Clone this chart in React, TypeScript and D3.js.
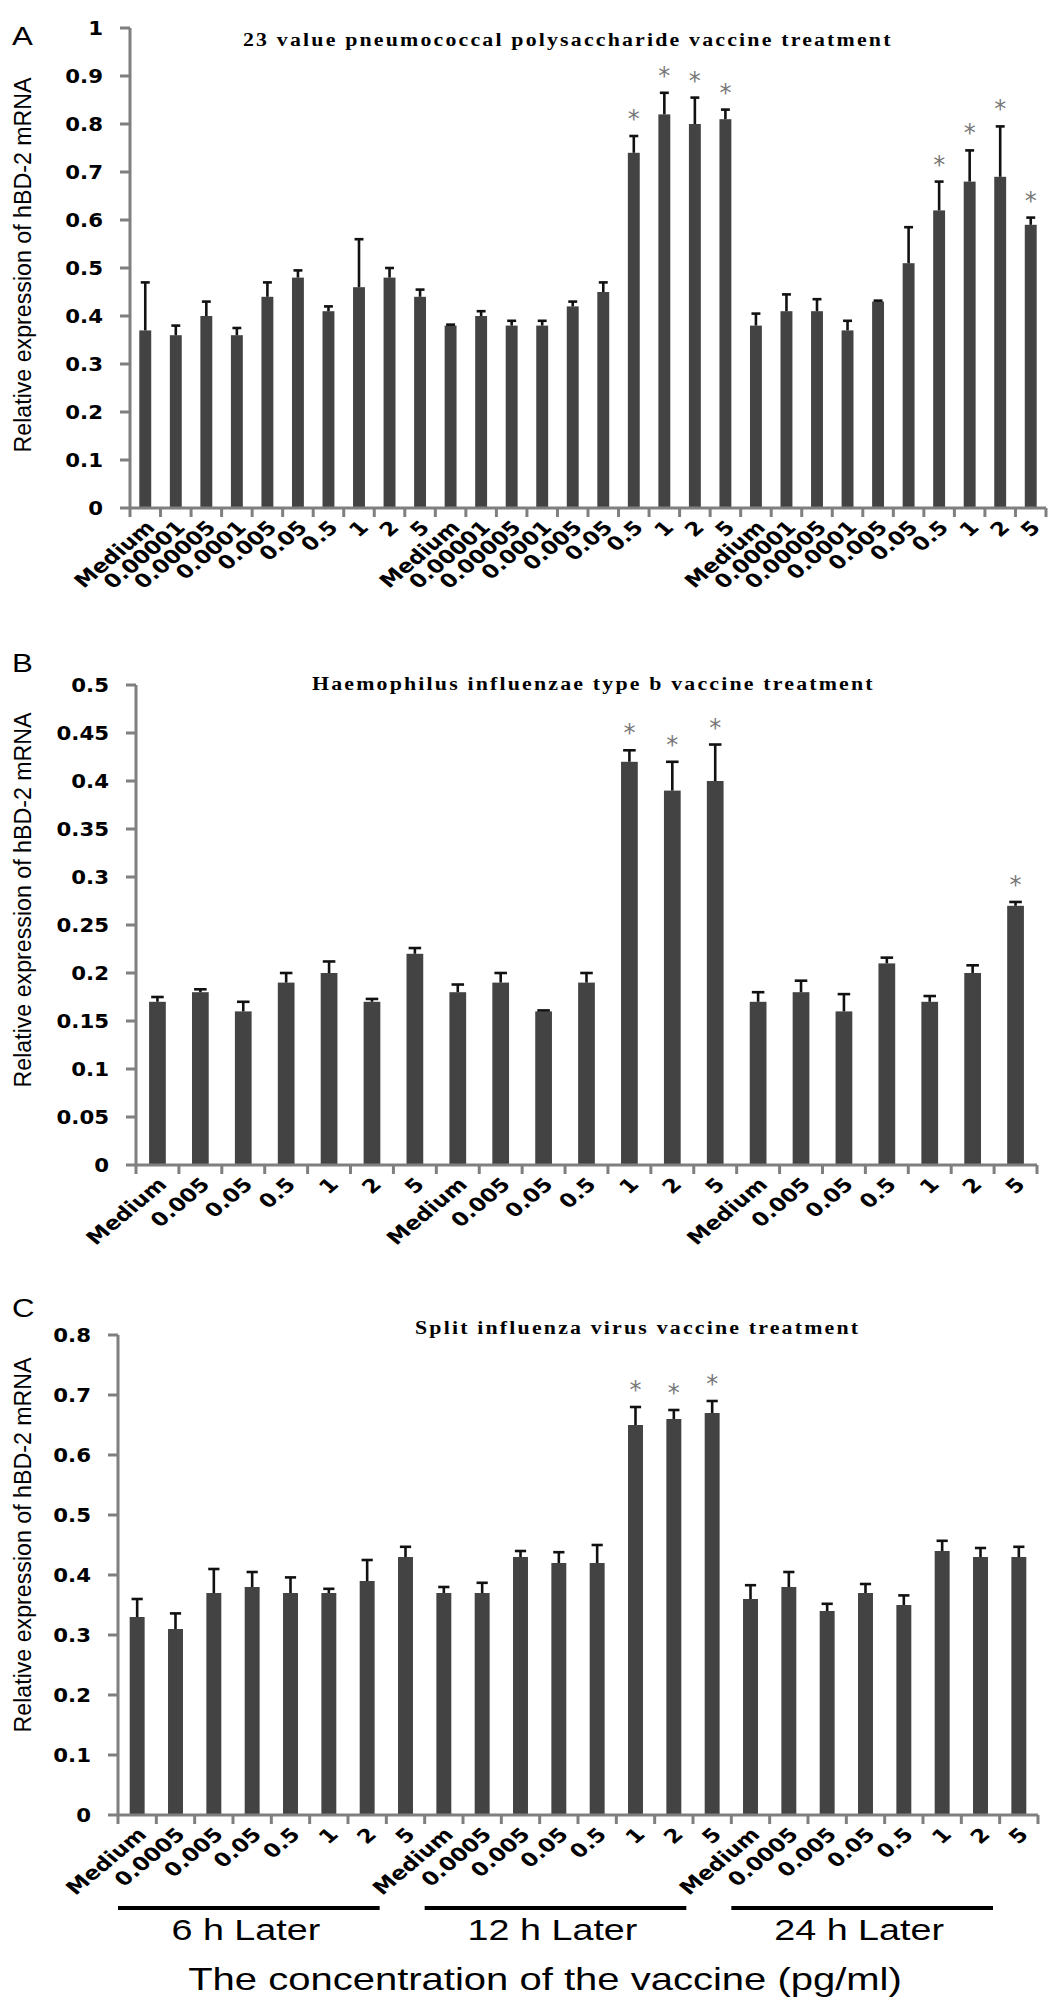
import React from 'react';
import * as d3 from 'd3';

// concentration labels for each vaccine (pg/ml), repeated for the 3 time points
const ppvDoses = ['Medium', '0.00001', '0.00005', '0.0001', '0.005', '0.05', '0.5', '1', '2', '5'];
const hibDoses = ['Medium', '0.005', '0.05', '0.5', '1', '2', '5'];
const fluDoses = ['Medium', '0.0005', '0.005', '0.05', '0.5', '1', '2', '5'];
const timePoints = ['6 h Later', '12 h Later', '24 h Later'];

// A: 23 valent pneumococcal polysaccharide vaccine
const ppvMean = [
  0.37, 0.36, 0.40, 0.36, 0.44, 0.48, 0.41, 0.46, 0.48, 0.44,
  0.38, 0.40, 0.38, 0.38, 0.42, 0.45, 0.74, 0.82, 0.80, 0.81,
  0.38, 0.41, 0.41, 0.37, 0.43, 0.51, 0.62, 0.68, 0.69, 0.59,
];
const ppvErr = [
  0.10, 0.02, 0.03, 0.015, 0.03, 0.015, 0.01, 0.10, 0.02, 0.015,
  0.002, 0.01, 0.01, 0.01, 0.01, 0.02, 0.035, 0.045, 0.055, 0.02,
  0.025, 0.035, 0.025, 0.02, 0.002, 0.075, 0.06, 0.065, 0.105, 0.015,
];
const ppvStars = [16, 17, 18, 19, 26, 27, 28, 29];

// B: Haemophilus influenzae type b vaccine
const hibMean = [
  0.17, 0.18, 0.16, 0.19, 0.20, 0.17, 0.22,
  0.18, 0.19, 0.16, 0.19, 0.42, 0.39, 0.40,
  0.17, 0.18, 0.16, 0.21, 0.17, 0.20, 0.27,
];
const hibErr = [
  0.005, 0.003, 0.01, 0.01, 0.012, 0.003, 0.006,
  0.008, 0.01, 0.001, 0.01, 0.012, 0.03, 0.038,
  0.01, 0.012, 0.018, 0.006, 0.006, 0.008, 0.004,
];
const hibStars = [11, 12, 13, 20];

// C: split influenza virus vaccine
const fluMean = [
  0.33, 0.31, 0.37, 0.38, 0.37, 0.37, 0.39, 0.43,
  0.37, 0.37, 0.43, 0.42, 0.42, 0.65, 0.66, 0.67,
  0.36, 0.38, 0.34, 0.37, 0.35, 0.44, 0.43, 0.43,
];
const fluErr = [
  0.03, 0.026, 0.04, 0.025, 0.026, 0.007, 0.035, 0.017,
  0.01, 0.017, 0.01, 0.018, 0.03, 0.03, 0.015, 0.02,
  0.023, 0.025, 0.012, 0.015, 0.016, 0.017, 0.015, 0.017,
];
const fluStars = [13, 14, 15];

const W = 1056;
const H = 2008;
const BAR = '#434343';
const AXIS = '#7f7f7f';
const STAR = '#787878';
const YLABEL = 'Relative expression of hBD-2 mRNA';

interface PanelProps {
  letter: string;
  letterY: number;
  title: string;
  titleX: number;
  titleY: number;
  labels: string[];
  mean: number[];
  err: number[];
  stars: number[];
  yMax: number;
  yStep: number;
  top: number;
  bottom: number;
  left: number;
  right: number;
  yLabelCenter: number;
}

const Panel: React.FC<PanelProps> = (p) => {
  const cats = p.mean.map((_, i) => i);
  const x = d3.scaleBand<number>().domain(cats).range([p.left, p.right]).padding(0);
  const y = d3.scaleLinear().domain([0, p.yMax]).range([p.bottom, p.top]);
  const bw = x.bandwidth() * 0.39;
  const capW = bw * 0.75;
  const ticks = d3.range(0, p.yMax + 1e-9, p.yStep);
  const fmt = (v: number) => String(+v.toFixed(2));
  const labelFor = (i: number) => p.labels[i % p.labels.length];
  const boundaries = d3.range(0, cats.length + 1).map(i => p.left + i * x.step());

  return (
    <g>
      <text x={12} y={p.letterY} fontFamily="Liberation Sans, Arial, sans-serif" fontSize={26}
        transform={`translate(12,${p.letterY}) scale(1.2,1) translate(-12,${-p.letterY})`}>{p.letter}</text>

      <text transform={`translate(${p.titleX},${p.titleY}) scale(1.15,1)`} fontFamily="Liberation Serif, Times New Roman, serif"
        fontWeight="bold" fontSize={19} letterSpacing={1.9}>{p.title}</text>

      <text transform={`translate(31,${p.yLabelCenter}) rotate(-90)`} textAnchor="middle"
        fontFamily="Liberation Sans, Arial, sans-serif" fontSize={23}
        textLength={375} lengthAdjust="spacingAndGlyphs">{YLABEL}</text>

      {/* bars */}
      {cats.map(i => (
        <rect key={`b${i}`} x={x(i)! + (x.bandwidth() - bw) / 2} y={y(p.mean[i])}
          width={bw} height={p.bottom - y(p.mean[i])} fill={BAR} />
      ))}

      {/* error bars (upper only) */}
      {cats.map(i => {
        const cx = x(i)! + x.bandwidth() / 2;
        const yt = y(p.mean[i] + p.err[i]);
        return (
          <g key={`e${i}`} stroke="#111" strokeWidth={2.6}>
            <line x1={cx} x2={cx} y1={y(p.mean[i])} y2={yt} />
            <line x1={cx - capW / 2} x2={cx + capW / 2} y1={yt} y2={yt} />
          </g>
        );
      })}

      {p.stars.map(i => (
        <text key={`s${i}`} x={x(i)! + x.bandwidth() / 2} y={y(p.mean[i] + p.err[i]) - 9}
          textAnchor="middle" fontFamily="DejaVu Sans, sans-serif" fontSize={24} fill={STAR}>*</text>
      ))}

      {/* y axis */}
      <line x1={p.left} x2={p.left} y1={p.top} y2={p.bottom} stroke={AXIS} strokeWidth={3} />
      {ticks.map(t => (
        <g key={`yt${t}`}>
          <line x1={p.left - 10} x2={p.left} y1={y(t)} y2={y(t)} stroke={AXIS} strokeWidth={3} />
          <text transform={`translate(${p.left - 27},${y(t)}) scale(1.12,1)`} textAnchor="end" dy="0.36em"
            fontFamily="DejaVu Sans, Verdana, sans-serif" fontWeight="bold" fontSize={19}>{fmt(t)}</text>
        </g>
      ))}

      {/* x axis */}
      <line x1={p.left} x2={p.right} y1={p.bottom} y2={p.bottom} stroke={AXIS} strokeWidth={3} />
      {boundaries.map((bx, i) => (
        <line key={`xt${i}`} x1={bx} x2={bx} y1={p.bottom} y2={p.bottom + 9} stroke={AXIS} strokeWidth={3} />
      ))}
      {cats.map(i => (
        <text key={`xl${i}`} transform={`translate(${x(i)! + x.bandwidth() / 2 + 5},${p.bottom + 16}) scale(1.2,1) rotate(-45)`}
          textAnchor="end" dy="0.35em" fontFamily="DejaVu Sans, Verdana, sans-serif" fontWeight="bold" fontSize={19}>
          {labelFor(i)}
        </text>
      ))}
    </g>
  );
};

export default function App() {
  // group brackets under panel C
  const fluX = d3.scaleBand<number>().domain(fluMean.map((_, i) => i)).range([118, 1038]);
  const per = fluDoses.length;
  const cAxis = 1815;

  return (
    <svg width={W} height={H} viewBox={`0 0 ${W} ${H}`}
      style={{ position: 'absolute', left: 0, top: 0, background: '#fff' }}>
      <rect width={W} height={H} fill="#fff" />
      <Panel letter="A" letterY={45} title="23 value pneumococcal polysaccharide vaccine treatment"
        titleX={243} titleY={46} labels={ppvDoses} mean={ppvMean} err={ppvErr} stars={ppvStars}
        yMax={1} yStep={0.1} top={28} bottom={508} left={130} right={1046} yLabelCenter={265} />
      <Panel letter="B" letterY={672} title="Haemophilus influenzae type b vaccine  treatment"
        titleX={312} titleY={690} labels={hibDoses} mean={hibMean} err={hibErr} stars={hibStars}
        yMax={0.5} yStep={0.05} top={685} bottom={1165} left={136} right={1037} yLabelCenter={900} />
      <Panel letter="C" letterY={1317} title="Split influenza virus vaccine treatment"
        titleX={415} titleY={1334} labels={fluDoses} mean={fluMean} err={fluErr} stars={fluStars}
        yMax={0.8} yStep={0.1} top={1335} bottom={cAxis} left={118} right={1038} yLabelCenter={1545} />

      {timePoints.map((t, g) => {
        const x0 = fluX(g * per)!;
        const x1 = fluX(g * per + per - 1)! + fluX.step() - 45;
        const cx = (x0 + x1) / 2 - 3;
        return (
          <g key={t}>
            <line x1={x0} x2={x1} y1={cAxis + 93} y2={cAxis + 93} stroke="#000" strokeWidth={4} />
            <text transform={`translate(${cx},${cAxis + 125}) scale(1.3,1)`} textAnchor="middle"
              fontFamily="Liberation Sans, Arial, sans-serif" fontSize={29}>{t}</text>
          </g>
        );
      })}
      <text transform={`translate(545,${cAxis + 175}) scale(1.25,1)`} textAnchor="middle"
        fontFamily="Liberation Sans, Arial, sans-serif" fontSize={32}>
        The concentration of the vaccine (pg/ml)
      </text>
    </svg>
  );
}
